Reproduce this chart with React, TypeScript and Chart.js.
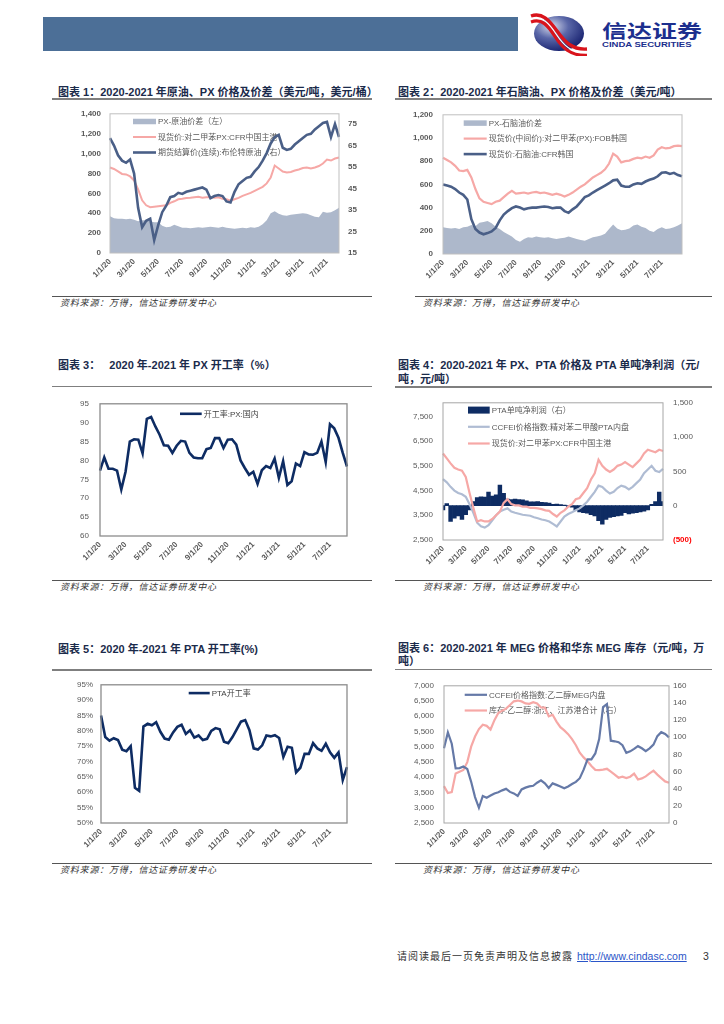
import React, { useEffect, useRef } from 'react';
import { Chart, registerables } from 'chart.js';

Chart.register(...registerables);

const LATIN = "'Liberation Sans', Arial, 'Noto Sans CJK SC', sans-serif";
const CJK = "'Noto Sans CJK SC', 'Liberation Sans', sans-serif";

// ---------- categories ----------
const YEARS = [20, 21];
const MONTH_NUMBERS = [1, 2, 3, 4, 5, 6, 7, 8, 9, 10, 11, 12];
const DAYS = [1, 11, 21];
const DATES: string[] = YEARS.flatMap((y) => MONTH_NUMBERS.flatMap((m) => DAYS.map((d) => `${m}/${d}/${y}`)));
const TICK_LABELS = ['1/1/20', '3/1/20', '5/1/20', '7/1/20', '9/1/20', '11/1/20', '1/1/21', '3/1/21', '5/1/21', '7/1/21'];

// ---------- chart 1 ----------
const C1_N = 58;
const C1_SPREAD = [370, 350, 345, 345, 340, 345, 335, 320, 330, 330, 320, 310, 310, 275, 260, 265, 285, 270, 255, 255, 250, 255, 260, 255, 260, 265, 260, 255, 265, 255, 250, 245, 250, 255, 250, 260, 255, 265, 290, 330, 400, 420, 395, 380, 375, 385, 390, 395, 400, 395, 380, 365, 360, 415, 405, 410, 430, 455];
const C1_PX = [860, 845, 820, 795, 790, 770, 730, 640, 530, 480, 460, 465, 470, 475, 480, 505, 520, 540, 545, 553, 555, 560, 565, 555, 560, 560, 555, 560, 545, 540, 525, 540, 555, 575, 590, 605, 625, 645, 665, 700, 760, 880, 850, 820, 810, 815, 830, 840, 855, 860, 850, 860, 875, 900, 940, 930, 950, 960];
const C1_BRENT = [68.5, 65, 60.5, 58, 57, 58.5, 52, 36, 27, 30, 31, 21, 28, 34, 37, 41, 41.5, 43, 42.5, 43.5, 44, 44.5, 45, 45.5, 44.5, 40.5, 41.5, 42, 41.5, 39, 38.5, 43.5, 47, 48.5, 50, 50.5, 53, 55, 58, 61.5, 66, 69, 70, 64, 63, 63.5, 65.5, 67, 68.5, 70, 70.5, 72.5, 74, 75.5, 76, 69, 75, 69];
const C1_LEFT_TICKS = [0, 200, 400, 600, 800, 1000, 1200, 1400];
const C1_RIGHT_TICKS = [15, 25, 35, 45, 55, 65, 75];

// ---------- chart 2 ----------
const C2_N = 60;
const C2_SPREAD = [230, 225, 220, 225, 215, 230, 235, 250, 240, 270, 275, 285, 265, 235, 215, 190, 170, 150, 120, 105, 130, 145, 140, 150, 145, 140, 145, 135, 130, 135, 140, 150, 140, 130, 120, 115, 130, 145, 150, 160, 175, 215, 255, 220, 205, 210, 220, 245, 255, 235, 225, 200, 190, 215, 230, 215, 220, 230, 245, 265];
const C2_PX = [830, 810, 790, 760, 720, 715, 725, 660, 560, 480, 450, 440, 430, 450, 460, 490, 520, 545, 520, 525, 530, 520, 530, 535, 525, 530, 520, 510, 520, 510, 495, 510, 530, 555, 580, 600, 630, 660, 680, 700, 730, 780, 865, 840, 790, 800, 805, 820, 830, 825, 840, 830, 850, 900, 920, 910, 915, 930, 935, 930];
const C2_NAPHTHA = [600, 590, 580, 560, 530, 510, 470, 300, 215, 185, 170, 180, 195, 225, 290, 340, 370, 395, 410, 400, 385, 395, 400, 400, 405, 410, 405, 395, 400, 400, 370, 355, 385, 410, 450, 490, 505, 530, 550, 570, 590, 610, 635, 640, 590, 580, 580, 600, 610, 605, 625, 640, 650, 670, 700, 705, 690, 700, 680, 670];
const C2_TICKS = [0, 200, 400, 600, 800, 1000, 1200];

// ---------- chart 3 ----------
const C3_N = 59;
const C3_PX_RATE = [77.3, 80.8, 77.8, 77.8, 77.3, 72.3, 77, 85, 85.6, 85.5, 81.9, 91, 91.5, 89, 86.8, 84, 83.9, 82, 83.9, 85.2, 85, 82, 80.8, 80.6, 80.6, 83, 83.3, 85.9, 85.9, 83.3, 85.5, 85.6, 84.2, 80, 78, 76.2, 77, 73.8, 77.4, 78.5, 78, 80.5, 75.4, 79.8, 73.5, 74.5, 79.2, 78.5, 82.2, 81.6, 81.5, 82, 85, 79.6, 89.6, 88.5, 86, 82, 78.4];
const C3_TICKS = [60, 65, 70, 75, 80, 85, 90, 95];

// ---------- chart 4 ----------
const C4_N = 59;
const C4_PX = [6000, 5800, 5600, 5420, 5350, 5300, 5050, 4400, 3800, 3250, 3300, 3250, 3250, 3350, 3500, 3650, 4000, 4150, 3950, 3900, 3900, 3850, 3850, 3800, 3800, 3780, 3750, 3700, 3680, 3550, 3450, 3600, 3700, 3850, 3950, 4150, 4200, 4400, 4600, 4950, 5200, 5750, 5500, 5350, 5250, 5350, 5500, 5550, 5650, 5550, 5450, 5600, 5750, 6000, 6150, 6100, 6050, 6150, 6100];
const C4_PTA = [4960, 4830, 4650, 4500, 4400, 4350, 4250, 3950, 3600, 3200, 3050, 3000, 3100, 3300, 3500, 3650, 3720, 3780, 3650, 3600, 3560, 3520, 3500, 3480, 3420, 3380, 3330, 3300, 3250, 3150, 3050, 3250, 3450, 3550, 3620, 3700, 3780, 3900, 4050, 4250, 4450, 4700, 4650, 4500, 4380, 4450, 4600, 4700, 4650, 4550, 4650, 4800, 4950, 5200, 5350, 5500, 5300, 5250, 5380];
const C4_PROFIT = [-60, 30, -230, -180, -150, -200, -130, -60, 60, 120, 130, 125, 200, 140, 160, 300, 180, 95, 90, 95, 90, 85, 70, 55, 55, 60, 50, 45, 40, 20, 25, 15, 10, -10, -20, -70, -90, -100, -110, -130, -150, -220, -270, -200, -170, -160, -150, -140, -100, -120, -110, -100, -90, -80, -60, 20, 60, 200, 60];
const C4_LEFT_TICKS = [2500, 3500, 4500, 5500, 6500, 7500];
const C4_RIGHT_TICKS = [-500, 0, 500, 1000, 1500];

// ---------- chart 5 ----------
const C5_N = 59;
const C5_PTA_RATE = [85, 78, 76.8, 77.6, 77, 73.9, 73.4, 75, 61.5, 60.5, 81.4, 82.3, 81.8, 82.8, 79.7, 77.5, 77.1, 79.5, 81.3, 82, 79, 80.2, 77.8, 78.5, 77, 77.4, 80, 80.9, 80.5, 76.5, 76, 78, 80.5, 83, 83.5, 80.2, 74.3, 73.9, 75.3, 78.5, 78.2, 78.6, 77.7, 71.5, 74.8, 74.5, 66.5, 68, 72.5, 72.5, 76, 74.3, 73.5, 75.8, 73, 71.2, 73, 64, 68.2];
const C5_TICKS = [50, 55, 60, 65, 70, 75, 80, 85, 90, 95];

// ---------- chart 6 ----------
const C6_N = 59;
const C6_MEG = [4950, 5470, 5100, 4290, 4300, 4350, 4270, 3850, 3350, 3000, 3385, 3330, 3400, 3470, 3510, 3570, 3620, 3520, 3470, 3390, 3600, 3660, 3700, 3720, 3820, 3900, 3800, 3650, 3800, 3750, 3700, 3640, 3700, 3780, 3850, 3970, 4250, 4590, 4590, 4780, 5250, 6300, 6400, 5200, 5180, 5150, 5050, 4800, 4850, 4930, 5020, 4950, 4860, 4950, 5070, 5350, 5480, 5420, 5310];
const C6_INV = [43, 35, 36, 57.6, 59.8, 61.8, 71, 89, 100.8, 109.5, 114.6, 113.3, 109, 120, 128.3, 131, 133.4, 137.6, 141.9, 142.8, 141.8, 139.4, 139, 140.8, 139.4, 134.7, 134.5, 124.4, 126.2, 118.3, 111.8, 108, 103.6, 97.8, 90.7, 82, 76.5, 72, 66.4, 62, 61.6, 62.2, 63.2, 59.8, 56.5, 52.8, 54, 52.5, 54, 57.6, 50.8, 52, 54.4, 57.8, 61, 56.4, 52.4, 48.5, 46.9];
const C6_LEFT_TICKS = [2500, 3000, 3500, 4000, 4500, 5000, 5500, 6000, 6500, 7000];
const C6_RIGHT_TICKS = [0, 20, 40, 60, 80, 100, 120, 140, 160];

// ---------- colours ----------
const NAVY = '#0E2C63';
const SLATE = '#4A5F87';
const PINK = '#F6A8A6';
const AREA = '#ADB8CB';
const PALE = '#AFBCD3';
const MEG_BLUE = '#6579A7';
const TICK_GREY = '#595959';

const fmtComma = (v: number) => v.toLocaleString('en-US');

type LegendItem = { text: string; color: string; kind: 'box' | 'line'; size: number };
type LegendCfg = { dx: number; dy: number; row: number; w: number; color: string; items: LegendItem[] };

function legendPlugin(cfg: LegendCfg) {
  return {
    id: 'insideLegend',
    beforeDatasetsDraw(chart: any) {
      const { ctx, chartArea } = chart;
      ctx.save();
      ctx.font = `8px ${LATIN}`;
      ctx.textBaseline = 'middle';
      ctx.textAlign = 'left';
      cfg.items.forEach((it, k) => {
        const y = chartArea.top + cfg.dy + k * cfg.row;
        const x = chartArea.left + cfg.dx;
        if (it.kind === 'box') {
          ctx.fillStyle = it.color;
          ctx.fillRect(x, y - it.size / 2, cfg.w, it.size);
        } else {
          ctx.strokeStyle = it.color;
          ctx.lineWidth = it.size;
          ctx.beginPath();
          ctx.moveTo(x, y);
          ctx.lineTo(x + cfg.w, y);
          ctx.stroke();
        }
        ctx.fillStyle = cfg.color;
        ctx.fillText(it.text, x + cfg.w + 2, y + 0.5);
      });
      ctx.restore();
    },
  };
}

function boxPlugin(color: string, width: number) {
  return {
    id: 'plotBox',
    afterDatasetsDraw(chart: any) {
      const { ctx, chartArea: a } = chart;
      ctx.save();
      ctx.strokeStyle = color;
      ctx.lineWidth = width;
      ctx.strokeRect(a.left, a.top, a.right - a.left, a.bottom - a.top);
      ctx.restore();
    },
  };
}

type YSpec = {
  position: 'left' | 'right';
  min: number;
  max: number;
  ticks: number[];
  width: number;
  pad: number;
  bold?: boolean;
  fmt?: (v: number) => string;
  color?: any;
  font?: any;
};

function yAxis(o: YSpec) {
  return {
    type: 'linear',
    position: o.position,
    min: o.min,
    max: o.max,
    grid: { display: false, drawTicks: false },
    border: { display: false },
    afterBuildTicks: (axis: any) => {
      axis.ticks = o.ticks.map((v) => ({ value: v }));
    },
    afterFit: (axis: any) => {
      axis.width = o.width;
    },
    ticks: {
      padding: o.pad,
      color: o.color ?? TICK_GREY,
      font: o.font ?? { family: LATIN, size: 8, weight: o.bold ? 'bold' : 'normal' },
      callback: (v: any) => (o.fmt ?? fmtComma)(Number(v)),
    },
  };
}

function xAxis(labels: string[], height: number) {
  return {
    type: 'category',
    offset: false,
    grid: { display: false, drawTicks: false },
    border: { display: false },
    afterBuildTicks: (axis: any) => {
      axis.ticks = axis.ticks.filter((t: any) => TICK_LABELS.includes(labels[t.value]));
    },
    afterFit: (axis: any) => {
      axis.height = height;
    },
    ticks: {
      autoSkip: false,
      minRotation: 45,
      maxRotation: 45,
      padding: 4,
      color: TICK_GREY,
      font: { family: LATIN, size: 8, weight: 'bold' },
    },
  };
}

function lineDs(data: number[], color: string, width: number, axis: string, order = 1) {
  return { type: 'line', data, borderColor: color, backgroundColor: color, borderWidth: width, yAxisID: axis, pointRadius: 0, fill: false, tension: 0, order };
}

function areaDs(data: number[], color: string, axis: string) {
  return { type: 'line', data, borderColor: color, backgroundColor: color, borderWidth: 0, yAxisID: axis, pointRadius: 0, fill: 'origin', tension: 0, order: 5 };
}

function baseConfig(labels: string[], datasets: any[], scales: any, pad: { top: number; right: number }, plugins: any[]) {
  return {
    type: 'line',
    data: { labels, datasets },
    options: {
      responsive: false,
      animation: false,
      layout: { padding: { top: pad.top, right: pad.right, left: 0, bottom: 0 } },
      plugins: { legend: { display: false }, tooltip: { enabled: false } },
      scales,
    },
    plugins,
  };
}

function makeChart1() {
  const labels = DATES.slice(0, C1_N);
  return baseConfig(
    labels,
    [areaDs(C1_SPREAD, AREA, 'y'), lineDs(C1_PX, PINK, 2, 'y', 2), lineDs(C1_BRENT, SLATE, 2.6, 'y1', 1)],
    {
      x: xAxis(labels, 43),
      y: yAxis({ position: 'left', min: 0, max: 1400, ticks: C1_LEFT_TICKS, width: 58, pad: 9, bold: true }),
      y1: yAxis({ position: 'right', min: 15, max: 79.8, ticks: C1_RIGHT_TICKS, width: 33, pad: 9, bold: true }),
    },
    { top: 12, right: 0 },
    [
      legendPlugin({
        dx: 23, dy: 7.7, row: 15.5, w: 23, color: TICK_GREY,
        items: [
          { text: 'PX-原油价差（左）', color: AREA, kind: 'box', size: 5.5 },
          { text: '现货价:对二甲苯PX:CFR中国主港', color: PINK, kind: 'line', size: 2 },
          { text: '期货结算价(连续):布伦特原油（右）', color: SLATE, kind: 'line', size: 2.6 },
        ],
      }),
      boxPlugin('#BFBFBF', 1),
    ]
  );
}

function makeChart2() {
  const labels = DATES.slice(0, C2_N);
  return baseConfig(
    labels,
    [areaDs(C2_SPREAD, AREA, 'y'), lineDs(C2_PX, PINK, 2.2, 'y', 2), lineDs(C2_NAPHTHA, SLATE, 2.6, 'y', 1)],
    {
      x: xAxis(labels, 42),
      y: yAxis({ position: 'left', min: 0, max: 1200, ticks: C2_TICKS, width: 51, pad: 10, bold: true }),
    },
    { top: 12, right: 30 },
    [
      legendPlugin({
        dx: 20.7, dy: 8.3, row: 15.5, w: 23, color: TICK_GREY,
        items: [
          { text: 'PX-石脑油价差', color: AREA, kind: 'box', size: 5.5 },
          { text: '现货价(中间价):对二甲苯(PX):FOB韩国', color: PINK, kind: 'line', size: 2.2 },
          { text: '现货价:石脑油:CFR韩国', color: SLATE, kind: 'line', size: 2.6 },
        ],
      }),
      boxPlugin('#BFBFBF', 1),
    ]
  );
}

function makeChart3() {
  const labels = DATES.slice(0, C3_N);
  return baseConfig(
    labels,
    [lineDs(C3_PX_RATE, NAVY, 2.6, 'y')],
    {
      x: xAxis(labels, 44),
      y: yAxis({ position: 'left', min: 60, max: 95, ticks: C3_TICKS, width: 48, pad: 11 }),
    },
    { top: 15, right: 25 },
    [
      legendPlugin({
        dx: 80, dy: 10, row: 15, w: 21.7, color: '#404040',
        items: [{ text: '开工率:PX:国内', color: NAVY, kind: 'line', size: 2.6 }],
      }),
      boxPlugin('#8C8C8C', 1.3),
    ]
  );
}

function makeChart4() {
  const labels = DATES.slice(0, C4_N);
  const profit = {
    type: 'bar',
    data: C4_PROFIT,
    backgroundColor: NAVY,
    borderWidth: 0,
    yAxisID: 'y1',
    barPercentage: 1,
    categoryPercentage: 1,
    order: 5,
  };
  return baseConfig(
    labels,
    [profit, lineDs(C4_PTA, PALE, 2.2, 'y', 2), lineDs(C4_PX, PINK, 2.2, 'y', 1)],
    {
      x: xAxis(labels, 40),
      y: yAxis({ position: 'left', min: 2500, max: 8050, ticks: C4_LEFT_TICKS, width: 51, pad: 10 }),
      y1: yAxis({
        position: 'right', min: -500, max: 1500, ticks: C4_RIGHT_TICKS, width: 49, pad: 10,
        fmt: (v) => (v < 0 ? `(${fmtComma(Math.abs(v))})` : fmtComma(v)),
        color: (c: any) => (c.tick && c.tick.value < 0 ? '#FF0000' : TICK_GREY),
        font: (c: any) => ({ family: LATIN, size: 8, weight: c.tick && c.tick.value < 0 ? 'bold' : 'normal' }),
      }),
    },
    { top: 8, right: 0 },
    [
      legendPlugin({
        dx: 25, dy: 7.3, row: 16.7, w: 21.7, color: TICK_GREY,
        items: [
          { text: 'PTA单吨净利润（右）', color: NAVY, kind: 'box', size: 7 },
          { text: 'CCFEI价格指数:精对苯二甲酸PTA内盘', color: PALE, kind: 'line', size: 2.2 },
          { text: '现货价:对二甲苯PX:CFR中国主港', color: PINK, kind: 'line', size: 2.2 },
        ],
      }),
      boxPlugin('#A6A6A6', 1),
    ]
  );
}

function makeChart5() {
  const labels = DATES.slice(0, C5_N);
  return baseConfig(
    labels,
    [lineDs(C5_PTA_RATE, NAVY, 2.6, 'y')],
    {
      x: xAxis(labels, 40),
      y: yAxis({ position: 'left', min: 50, max: 95, ticks: C5_TICKS, width: 49, pad: 8, fmt: (v) => `${v}%` }),
    },
    { top: 11, right: 25 },
    [
      legendPlugin({
        dx: 87.7, dy: 8.3, row: 15, w: 21, color: '#404040',
        items: [{ text: 'PTA开工率', color: NAVY, kind: 'line', size: 2.6 }],
      }),
      boxPlugin('#8C8C8C', 1.3),
    ]
  );
}

function makeChart6() {
  const labels = DATES.slice(0, C6_N);
  return baseConfig(
    labels,
    [lineDs(C6_MEG, MEG_BLUE, 2.2, 'y', 1), lineDs(C6_INV, PINK, 2.2, 'y1', 2)],
    {
      x: xAxis(labels, 40),
      y: yAxis({ position: 'left', min: 2500, max: 7000, ticks: C6_LEFT_TICKS, width: 52, pad: 10 }),
      y1: yAxis({ position: 'right', min: 0, max: 160, ticks: C6_RIGHT_TICKS, width: 43, pad: 4 }),
    },
    { top: 8, right: 0 },
    [
      legendPlugin({
        dx: 20.7, dy: 9, row: 15.7, w: 22.3, color: TICK_GREY,
        items: [
          { text: 'CCFEI价格指数:乙二醇MEG内盘', color: MEG_BLUE, kind: 'line', size: 2.2 },
          { text: '库存:乙二醇:浙江、江苏港合计（右）', color: PINK, kind: 'line', size: 2.2 },
        ],
      }),
      boxPlugin('#A6A6A6', 1),
    ]
  );
}

function ChartCanvas({ x, y, w, h, make }: { x: number; y: number; w: number; h: number; make: () => any }) {
  const ref = useRef<HTMLCanvasElement>(null);
  useEffect(() => {
    const chart = new Chart(ref.current as HTMLCanvasElement, make());
    return () => chart.destroy();
  }, []);
  return (
    <canvas
      ref={ref}
      width={w}
      height={h}
      style={{ position: 'absolute', left: x, top: y, width: w, height: h }}
    />
  );
}

function Title({ x, y, lines, lh = 15 }: { x: number; y: number; lines: string[]; lh?: number }) {
  return (
    <div
      style={{
        position: 'absolute',
        left: x,
        top: y,
        fontFamily: LATIN,
        fontWeight: 'bold',
        fontSize: 11,
        lineHeight: `${lh}px`,
        color: '#1B2B4B',
        whiteSpace: 'pre',
      }}
    >
      {lines.join('\n')}
    </div>
  );
}

function HLine({ x1, x2, y, t, c }: { x1: number; x2: number; y: number; t: number; c: string }) {
  return <div style={{ position: 'absolute', left: x1, top: y - t / 2, width: x2 - x1, height: t, background: c }} />;
}

function Source({ x, y }: { x: number; y: number }) {
  return (
    <div
      style={{
        position: 'absolute',
        left: x,
        top: y - 6,
        fontFamily: CJK,
        fontStyle: 'italic',
        fontSize: 9,
        letterSpacing: 0.8,
        lineHeight: '12px',
        color: '#333333',
        whiteSpace: 'nowrap',
      }}
    >
      资料来源：万得，信达证券研发中心
    </div>
  );
}

function Logo() {
  return (
    <>
      <svg style={{ position: 'absolute', left: 530, top: 12 }} width={62} height={44} viewBox="0 0 62 44">
        <defs>
          <radialGradient id="sph" cx="35%" cy="30%" r="75%">
            <stop offset="0%" stopColor="#D8DCEC" />
            <stop offset="45%" stopColor="#5A67A8" />
            <stop offset="100%" stopColor="#16206E" />
          </radialGradient>
        </defs>
        <ellipse cx={29} cy={21.5} rx={25} ry={17.5} fill="url(#sph)" />
        <path d="M1 4 C 12 0, 19 8, 27 19 S 42 38, 57 37" stroke="#D9141C" strokeWidth={3.4} fill="none" />
        <path d="M1 7.2 C 12 3.2, 18.5 11, 26 22 S 41 41.5, 57 40.4" stroke="#FFFFFF" strokeWidth={1.2} fill="none" />
        <path d="M1 10 C 12 6, 18 13.5, 25 24.5 S 40 44, 57 43.4" stroke="#D9141C" strokeWidth={3.2} fill="none" />
      </svg>
      <div
        style={{
          position: 'absolute',
          left: 602,
          top: 20,
          fontFamily: CJK,
          fontWeight: 'bold',
          fontSize: 18.5,
          lineHeight: '20px',
          color: '#1C2F8E',
          whiteSpace: 'nowrap',
          transform: 'scaleX(1.35)',
          transformOrigin: 'left center',
        }}
      >
        信达证券
      </div>
      <div
        style={{
          position: 'absolute',
          left: 602,
          top: 40.5,
          fontFamily: LATIN,
          fontWeight: 'bold',
          fontSize: 7,
          lineHeight: '8px',
          color: '#1C2F8E',
          whiteSpace: 'nowrap',
          transform: 'scaleX(1.36)',
          transformOrigin: 'left center',
        }}
      >
        CINDA SECURITIES
      </div>
    </>
  );
}

export default function App() {
  const lineGrey = '#7F7F7F';
  const footGrey = '#555555';
  return (
    <div style={{ position: 'absolute', left: 0, top: 0, width: 724, height: 1024, background: '#FFFFFF', overflow: 'hidden' }}>
      {/* header */}
      <div style={{ position: 'absolute', left: 43, top: 17, width: 475, height: 34, background: '#4C6F97' }} />
      <Logo />

      {/* row 1 */}
      <Title x={58} y={84.5} lines={['图表 1：2020-2021 年原油、PX 价格及价差（美元/吨，美元/桶）']} />
      <Title x={398} y={84.5} lines={['图表 2：2020-2021 年石脑油、PX 价格及价差（美元/吨）']} />
      <HLine x1={52} x2={372} y={99} t={1.5} c={lineGrey} />
      <HLine x1={395} x2={712} y={99} t={1.5} c={lineGrey} />
      <ChartCanvas x={52} y={100} w={320} h={196} make={makeChart1} />
      <ChartCanvas x={392} y={100} w={320} h={196} make={makeChart2} />
      <HLine x1={52} x2={372} y={296.5} t={1} c={footGrey} />
      <HLine x1={415} x2={712} y={296.5} t={1} c={footGrey} />
      <Source x={60} y={303} />
      <Source x={423} y={303} />

      {/* row 2 */}
      <Title x={58} y={357.5} lines={['图表 3：   2020 年-2021 年 PX 开工率（%）']} />
      <Title x={398} y={357.5} lines={['图表 4：2020-2021 年 PX、PTA 价格及 PTA 单吨净利润（元/', '吨，元/吨）']} lh={14.5} />
      <HLine x1={52} x2={372} y={386.5} t={1.5} c={lineGrey} />
      <HLine x1={395} x2={712} y={387} t={1.5} c={lineGrey} />
      <ChartCanvas x={52} y={388} w={320} h={192} make={makeChart3} />
      <ChartCanvas x={392} y={388} w={320} h={192} make={makeChart4} />
      <HLine x1={52} x2={372} y={580} t={1} c={footGrey} />
      <HLine x1={395} x2={712} y={580} t={1} c={footGrey} />
      <Source x={60} y={587} />
      <Source x={423} y={587} />

      {/* row 3 */}
      <Title x={58} y={641.5} lines={['图表 5：2020 年-2021 年 PTA 开工率(%)']} />
      <Title x={398} y={641.5} lines={['图表 6：2020-2021 年 MEG 价格和华东 MEG 库存（元/吨，万', '吨）']} lh={13} />
      <HLine x1={52} x2={372} y={670} t={1.5} c={lineGrey} />
      <HLine x1={395} x2={712} y={669.5} t={1.5} c={lineGrey} />
      <ChartCanvas x={52} y={672} w={320} h={191} make={makeChart5} />
      <ChartCanvas x={392} y={671} w={320} h={192} make={makeChart6} />
      <HLine x1={52} x2={372} y={863.5} t={1} c={footGrey} />
      <HLine x1={395} x2={712} y={863.5} t={1} c={footGrey} />
      <Source x={60} y={870} />
      <Source x={423} y={870} />

      {/* footer */}
      <div
        style={{
          position: 'absolute',
          left: 397,
          top: 949,
          fontFamily: CJK,
          fontSize: 10,
          letterSpacing: 1,
          lineHeight: '14px',
          color: '#333333',
          whiteSpace: 'nowrap',
        }}
      >
        请阅读最后一页免责声明及信息披露
      </div>
      <div
        style={{
          position: 'absolute',
          left: 577,
          top: 949,
          fontFamily: LATIN,
          fontSize: 10.5,
          lineHeight: '14px',
          color: '#2B55C8',
          textDecoration: 'underline',
          whiteSpace: 'nowrap',
        }}
      >
        http://www.cindasc.com
      </div>
      <div
        style={{
          position: 'absolute',
          left: 703,
          top: 949,
          fontFamily: LATIN,
          fontSize: 10.5,
          lineHeight: '14px',
          color: '#333333',
        }}
      >
        3
      </div>
    </div>
  );
}
